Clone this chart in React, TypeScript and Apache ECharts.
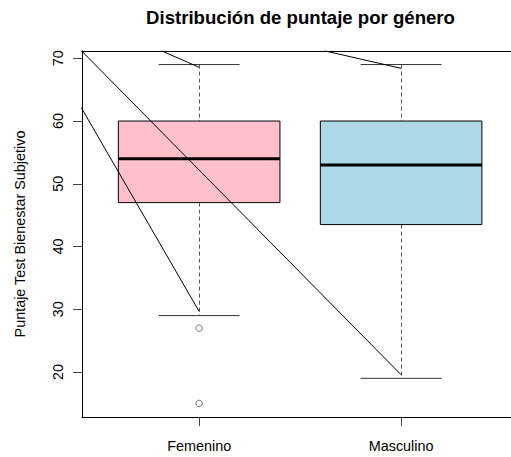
import React, { useEffect, useRef } from "react";
import * as echarts from "echarts";

const categories = ["Femenino", "Masculino"];
const whiskerLow = [29, 19];
const q1 = [47, 43.5];
const medians = [54, 53];
const q3 = [60, 60];
const whiskerHigh = [69, 69];
const outlierCategory = [1, 1];
const outlierValue = [27, 15];
const yTicks = [20, 30, 40, 50, 60, 70];
const xTicks = [1, 2];
const boxColors = ["#FFC0CB", "#ADD8E6"];
const lineStartX = [0.417, 0.416, 0.813, 1.619];
const lineStartY = [71.2, 62.15, 71.2, 71.2];
const lineEndX = [2, 1, 1, 2];
const lineEndY = [19.57, 29.66, 68.56, 68.4];

const FONT = "Liberation Sans, Arial, Helvetica, sans-serif";

export default function App() {
  const ref = useRef<HTMLDivElement>(null);
  useEffect(() => {
    if (!ref.current) return;
    const chart = echarts.init(ref.current, null, { renderer: "svg" });
    const boxData = categories.map((_, i) => [
      i + 1,
      whiskerLow[i],
      q1[i],
      medians[i],
      q3[i],
      whiskerHigh[i],
    ]);
    const lineSeries = lineStartX.map((sx, i) => ({
      type: "line",
      data: [
        [sx, lineStartY[i]],
        [lineEndX[i], lineEndY[i]],
      ],
      symbol: "none",
      clip: true,
      lineStyle: { color: "#000", width: 1 },
      silent: true,
      z: 5,
    }));
    const option: any = {
      animation: false,
      backgroundColor: "#fff",
      graphic: [
        {
          type: "text",
          x: 300.5,
          y: 17,
          style: {
            text: "Distribución de puntaje por género",
            fontSize: 18.6,
            fontWeight: "bold",
            fontFamily: FONT,
            fill: "#000",
            textAlign: "center",
            textVerticalAlign: "middle",
          },
        },
      ],
      grid: { left: 82, right: 0, top: 51, bottom: 40 },
      xAxis: [
        {
          type: "value",
          min: 0.42,
          max: 2.544,
          position: "bottom",
          splitLine: { show: false },
          axisLine: { show: true, onZero: false, lineStyle: { color: "#000", width: 1 } },
          axisTick: {
            show: true,
            customValues: xTicks,
            length: 9,
            lineStyle: { color: "#444" },
          },
          axisLabel: {
            customValues: xTicks,
            formatter: (v: number) => categories[Math.round(v) - 1] ?? "",
            margin: 22,
            fontSize: 14.4,
            fontFamily: FONT,
            color: "#000",
          },
        },
        {
          type: "value",
          min: 0.42,
          max: 2.544,
          position: "top",
          splitLine: { show: false },
          axisLine: { show: true, onZero: false, lineStyle: { color: "#000", width: 1 } },
          axisTick: { show: false },
          axisLabel: { show: false },
        },
      ],
      yAxis: {
        type: "value",
        min: 12.84,
        max: 71.16,
        name: "Puntaje Test Bienestar Subjetivo",
        nameLocation: "middle",
        nameRotate: 90,
        nameGap: 55,
        nameTextStyle: { fontSize: 14.4, fontFamily: FONT, color: "#000" },
        splitLine: { show: false },
        axisLine: { show: true, onZero: false, lineStyle: { color: "#000", width: 1 } },
        axisTick: {
          show: true,
          customValues: yTicks,
          length: 9,
          lineStyle: { color: "#444" },
        },
        axisLabel: {
          customValues: yTicks,
          rotate: 90,
          margin: 17,
          fontSize: 14.4,
          fontFamily: FONT,
          color: "#000",
        },
      },
      series: [
        {
          type: "custom",
          data: boxData,
          encode: { x: 0, y: [1, 2, 3, 4, 5] },
          clip: true,
          renderItem: (params: any, api: any) => {
            const i = params.dataIndex;
            const x = api.value(0);
            const lo = api.value(1);
            const b1 = api.value(2);
            const md = api.value(3);
            const b3 = api.value(4);
            const hi = api.value(5);
            const tl = api.coord([x - 0.4, b3]);
            const br = api.coord([x + 0.4, b1]);
            const mL = api.coord([x - 0.4, md]);
            const mR = api.coord([x + 0.4, md]);
            const top = api.coord([x, hi]);
            const bot = api.coord([x, lo]);
            const capL = api.coord([x - 0.2, hi])[0];
            const capR = api.coord([x + 0.2, hi])[0];
            const cx = Math.round(top[0]) + 0.5;
            return {
              type: "group",
              children: [
                {
                  type: "line",
                  shape: { x1: cx, y1: top[1], x2: cx, y2: tl[1] },
                  style: { stroke: "#555", lineWidth: 1, lineDash: [4, 3] },
                },
                {
                  type: "line",
                  shape: { x1: cx, y1: br[1], x2: cx, y2: bot[1] },
                  style: { stroke: "#555", lineWidth: 1, lineDash: [4, 3] },
                },
                {
                  type: "line",
                  shape: { x1: capL, y1: top[1], x2: capR, y2: top[1] },
                  style: { stroke: "#333", lineWidth: 1 },
                },
                {
                  type: "line",
                  shape: { x1: capL, y1: bot[1], x2: capR, y2: bot[1] },
                  style: { stroke: "#333", lineWidth: 1 },
                },
                {
                  type: "rect",
                  shape: {
                    x: tl[0],
                    y: tl[1],
                    width: br[0] - tl[0],
                    height: br[1] - tl[1],
                  },
                  style: { fill: boxColors[i], stroke: "#000", lineWidth: 1 },
                },
                {
                  type: "line",
                  shape: { x1: mL[0], y1: mL[1], x2: mR[0], y2: mR[1] },
                  style: { stroke: "#000", lineWidth: 3 },
                },
              ],
            };
          },
          z: 2,
        },
        {
          type: "scatter",
          data: outlierCategory.map((c, i) => [c, outlierValue[i]]),
          symbol: "circle",
          symbolSize: 6.5,
          itemStyle: { color: "#fff", borderColor: "#222", borderWidth: 0.8 },
          z: 3,
        },
        ...lineSeries,
      ],
    };
    chart.setOption(option);
    return () => chart.dispose();
  }, []);
  return (
    <div
      ref={ref}
      style={{ position: "absolute", left: 0, top: 0, width: 511, height: 457 }}
    />
  );
}
